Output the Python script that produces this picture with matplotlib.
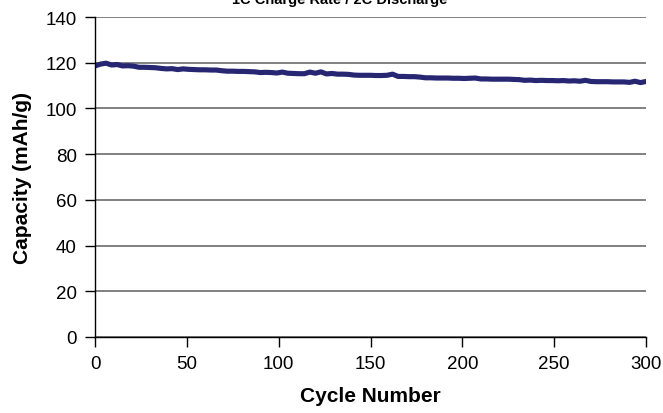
import numpy as np
import matplotlib
matplotlib.use("Agg")
import matplotlib.pyplot as plt

plt.rcParams['font.family'] = ['Liberation Sans', 'DejaVu Sans']

# capacity every 3 cycles (0 .. 300)
capacity = [
    118.6, 119.4, 119.8, 119.0, 119.2, 118.6, 118.7, 118.5, 118.0, 118.0,
    117.9, 117.8, 117.5, 117.3, 117.4, 117.0, 117.3, 117.1, 117.0, 116.9,
    116.9, 116.8, 116.8, 116.5, 116.3, 116.3, 116.2, 116.2, 116.1, 116.0,
    115.7, 115.8, 115.7, 115.5, 115.9, 115.4, 115.3, 115.2, 115.2, 115.9,
    115.4, 116.0, 115.1, 115.3, 115.0, 115.0, 114.9, 114.6, 114.5, 114.5,
    114.5, 114.4, 114.4, 114.5, 115.0, 114.0, 114.0, 113.9, 113.9, 113.7,
    113.4, 113.4, 113.3, 113.3, 113.3, 113.2, 113.2, 113.1, 113.2, 113.3,
    112.9, 112.9, 112.8, 112.8, 112.8, 112.8, 112.7, 112.6, 112.3, 112.4,
    112.2, 112.3, 112.2, 112.2, 112.1, 112.2, 112.0, 112.1, 111.9, 112.3,
    111.8, 111.7, 111.7, 111.7, 111.6, 111.6, 111.6, 111.4, 111.9, 111.3,
    111.8,
]
cycles = np.arange(0, 3 * len(capacity), 3)

xticks = [0, 50, 100, 150, 200, 250, 300]
yticks = [0, 20, 40, 60, 80, 100, 120, 140]

fig = plt.figure(figsize=(6.63, 4.14), dpi=100)
ax = fig.add_axes([0.1433, 0.1836, 0.8311, 0.7729])

ax.plot(cycles, capacity, color='#262673', lw=3.7, solid_joinstyle='round')

ax.set_xlim(0, 300)
ax.set_ylim(0, 140)
ax.set_xticks(xticks)
ax.set_yticks(yticks)
ax.yaxis.grid(True, color='#808080', lw=1.4)
ax.set_axisbelow(True)

for s in ['top', 'right']:
    ax.spines[s].set_visible(False)
for s in ['left', 'bottom']:
    ax.spines[s].set_linewidth(1.0)
ax.tick_params(direction='out', length=7, width=1, labelsize=13.5, pad=6)

ax.set_xlabel('Cycle Number', fontsize=15, fontweight='bold', labelpad=10)
ax.set_ylabel('Capacity (mAh/g)', fontsize=15, fontweight='bold', labelpad=10)

fig.text(340 / 663, 1 - 4 / 414, '1C Charge Rate / 2C Discharge',
         ha='center', va='baseline', fontsize=10.5, fontweight='bold')

fig.savefig('out.png', dpi=100)
